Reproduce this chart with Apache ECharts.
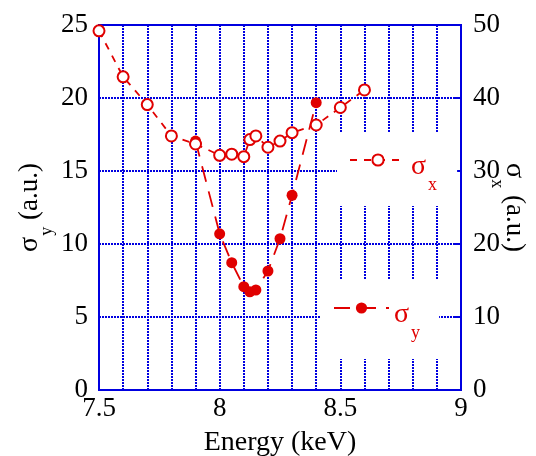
<!DOCTYPE html>
<html>
<head>
<meta charset="utf-8">
<title>sigma vs energy</title>
<script src="https://cdn.jsdelivr.net/npm/echarts@6/dist/echarts.min.js"></script>
<style>
  html, body { margin: 0; padding: 0; background: #fff; }
  #main { width: 536px; height: 456px; }
</style>
</head>
<body>
<div id="main"></div>
<script>
// energies (keV) and widths
var energyX = [7.5, 7.6, 7.7, 7.8, 7.9, 8.0, 8.05, 8.1, 8.125, 8.15, 8.2, 8.25, 8.3, 8.4, 8.5, 8.6];
var sigmaX  = [49.2, 42.9, 39.1, 34.8, 33.7, 32.15, 32.3, 31.96, 34.3, 34.8, 33.25, 34.1, 35.25, 36.3, 38.7, 41.1];
var energyY = [7.9, 8.0, 8.05, 8.1, 8.125, 8.15, 8.2, 8.25, 8.3, 8.4];
var sigmaY  = [17.05, 10.7, 8.72, 7.08, 6.73, 6.85, 8.15, 10.36, 13.34, 19.68];

var BLUE = '#0000e0';
var RED = '#e00000';
var FONT = '"Liberation Serif", "Times New Roman", serif';
var GRIDLINE = { color: BLUE, width: 2, type: [2, 1] };

function pairs(xs, ys) {
    return xs.map(function (x, i) { return [x, ys[i]]; });
}

// sigma with a low subscript
var richSub = {
    s: { fontFamily: FONT, fontSize: 28, lineHeight: 28, verticalAlign: 'top', color: '#000' },
    sub: { fontFamily: FONT, fontSize: 18, lineHeight: 18, verticalAlign: 'top', padding: [22, 0, 0, 1], color: '#000' },
    t: { fontFamily: FONT, fontSize: 27, lineHeight: 28, verticalAlign: 'top', color: '#000' }
};
var richLeg = {
    s: { fontFamily: FONT, fontSize: 28, lineHeight: 28, verticalAlign: 'top', padding: [7, 0, 0, 0], color: RED },
    sub: { fontFamily: FONT, fontSize: 18, lineHeight: 18, verticalAlign: 'top', padding: [30, 0, 0, 2], color: RED }
};

var chart = echarts.init(document.getElementById('main'));

var option = {
    animation: false,
    backgroundColor: '#fff',
    grid: {
        left: 99, right: 75, top: 25, bottom: 66,
        outerBoundsMode: 'none',
        show: true, borderColor: BLUE, borderWidth: 2, backgroundColor: 'transparent'
    },
    xAxis: {
        type: 'value', min: 7.5, max: 9, interval: 0.5,
        name: 'Energy (keV)', nameLocation: 'middle', nameGap: 39,
        nameMoveOverlap: false,
        nameTextStyle: { fontFamily: FONT, fontSize: 28, color: '#000' },
        axisLine: { lineStyle: { color: BLUE, width: 2 } },
        axisTick: { show: false },
        axisLabel: { fontFamily: FONT, fontSize: 27, color: '#000', margin: 5 },
        splitLine: { show: true, lineStyle: GRIDLINE },
        minorTick: { show: false, splitNumber: 5 },
        minorSplitLine: { show: true, lineStyle: GRIDLINE }
    },
    yAxis: [{
        type: 'value', min: 0, max: 25, interval: 5, position: 'left',
        name: '{s|σ}{sub|y}{t| (a.u.)}', nameLocation: 'middle', nameGap: 55,
        nameMoveOverlap: false,
        nameTextStyle: { color: '#000', rich: richSub },
        axisLine: { show: true, lineStyle: { color: BLUE, width: 2 } },
        axisTick: { show: false },
        axisLabel: { fontFamily: FONT, fontSize: 27, color: '#000', margin: 11 },
        splitLine: { show: true, lineStyle: GRIDLINE }
    }, {
        type: 'value', min: 0, max: 50, interval: 10, position: 'right',
        name: '{s|σ}{sub|x}{t| (a.u.)}', nameLocation: 'middle', nameGap: 39, nameRotate: -90,
        nameMoveOverlap: false,
        nameTextStyle: { color: '#000', rich: richSub },
        axisLine: { show: true, lineStyle: { color: BLUE, width: 2 } },
        axisTick: { show: true, inside: true, length: 6, lineStyle: { color: BLUE, width: 2 } },
        axisLabel: { fontFamily: FONT, fontSize: 27, color: '#000', margin: 12 },
        splitLine: { show: false }
    }],
    legend: [{
        data: ['σx'], orient: 'horizontal', left: 337, top: 132,
        backgroundColor: '#fff', padding: [14, 20, 12, 12],
        itemWidth: 56, itemHeight: 14,
        formatter: function () { return '{s|σ}{sub|x}'; },
        textStyle: { rich: richLeg }
    }, {
        data: ['σy'], orient: 'horizontal', left: 320, top: 280,
        backgroundColor: '#fff', padding: [14, 19, 17, 13],
        itemWidth: 55, itemHeight: 14,
        formatter: function () { return '{s|σ}{sub|y}'; },
        textStyle: { rich: richLeg }
    }],
    series: [{
        name: 'σy', type: 'line', yAxisIndex: 0,
        data: pairs(energyY, sigmaY),
        symbol: 'circle', symbolSize: 11,
        itemStyle: { color: RED },
        lineStyle: { color: RED, width: 1.8, type: [16, 10] },
        z: 3
    }, {
        name: 'σx', type: 'line', yAxisIndex: 1,
        data: pairs(energyX, sigmaX),
        symbol: 'emptyCircle', symbolSize: 11,
        itemStyle: { color: RED, borderWidth: 1.8 },
        lineStyle: { color: RED, width: 1.8, type: [7, 7] },
        z: 4
    }]
};

chart.setOption(option);
</script>
</body>
</html>
